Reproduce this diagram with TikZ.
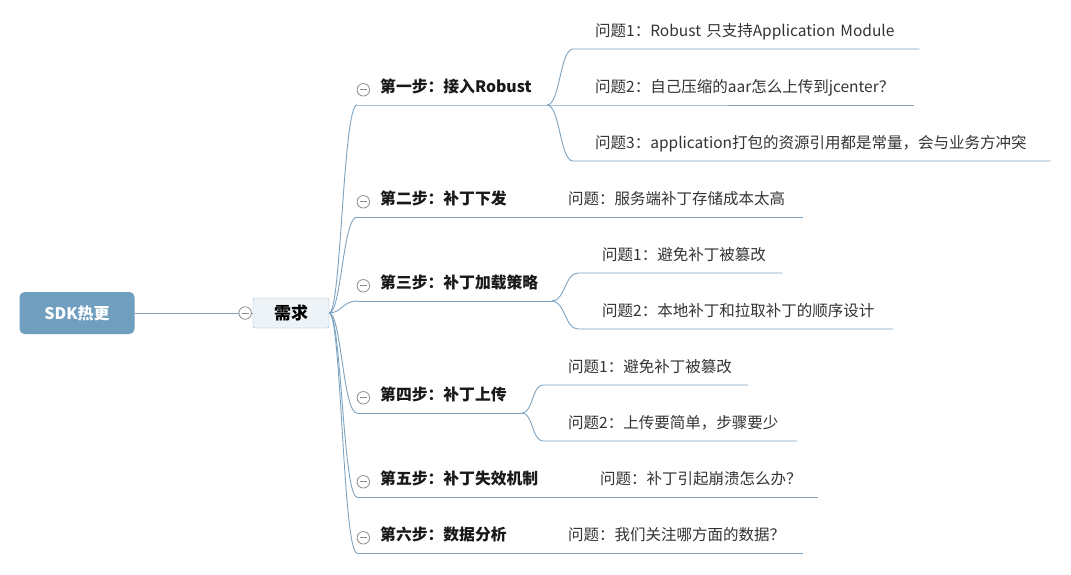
\documentclass[tikz,border=0pt]{standalone}
\usepackage{fontspec}
\newfontfamily\cjk{Noto Sans CJK SC}
\usetikzlibrary{positioning}
\definecolor{linkblue}{RGB}{125,163,192}
\definecolor{rootblue}{RGB}{111,158,191}
\definecolor{reqfill}{RGB}{238,243,248}
\definecolor{reqline}{RGB}{150,178,203}

\begin{document}
\begin{tikzpicture}[x=1pt,y=-1pt,
  link/.style={draw=linkblue,line width=0.9pt},
  root/.style={fill=rootblue,rounded corners=5pt,minimum width=115pt,minimum height=42pt,text=white,font=\cjk\bfseries\fontsize{16}{19}\selectfont},
  need/.style={draw=reqline,fill=reqfill,rounded corners=2pt,minimum width=76pt,minimum height=30pt,font=\cjk\bfseries\fontsize{17}{20}\selectfont},
  stepnode/.style={anchor=south west,inner xsep=0pt,inner ysep=9.5pt,text height=12pt,text depth=3pt,text=black!90,font=\cjk\bfseries\fontsize{15.8}{18}\selectfont},
  leaf/.style={anchor=south west,inner xsep=0pt,inner ysep=9.5pt,text height=12pt,text depth=3pt,align=left,text=black!80,font=\cjk\fontsize{15.5}{18}\selectfont},
  fold/.style={circle,draw=black!45,fill=white,line width=0.8pt,minimum size=12.5pt,inner sep=0pt,
    path picture={\draw[black!45,line width=0.8pt] ([xshift=-3.5pt]path picture bounding box.center)--([xshift=3.5pt]path picture bounding box.center);}}
]
\fill[white] (0,0) rectangle (1071,574);
\useasboundingbox (0,0) rectangle (1071,574);

% centre
\node[root] (sdk) at (77,313) {SDK热更};
\node[need] (req) at (291,313) {需求};

% steps
\node[stepnode] (s1) at (380,105) {第一步：接入Robust};
\node[stepnode] (s2) at (380,217) {第二步：补丁下发};
\node[stepnode] (s3) at (380,301) {第三步：补丁加载策略};
\node[stepnode] (s4) at (380,413) {第四步：补丁上传};
\node[stepnode] (s5) at (380,497) {第五步：补丁失效机制};
\node[stepnode] (s6) at (380,553) {第六步：数据分析};

% questions
\node[leaf,text width=324pt] (q11) at (595,49) {问题1：Robust 只支持Application Module};
\node[leaf,text width=319pt] (q12) at (595,105) {问题2：自己压缩的aar怎么上传到jcenter？};
\node[leaf,text width=455pt] (q13) at (595,161) {问题3：application打包的资源引用都是常量，会与业务方冲突};
\node[leaf,text width=235pt] (q2) at (568,217) {问题：服务端补丁存储成本太高};
\node[leaf,text width=180pt] (q31) at (602,273) {问题1：避免补丁被篡改};
\node[leaf,text width=291pt] (q32) at (602,329) {问题2：本地补丁和拉取补丁的顺序设计};
\node[leaf,text width=180pt] (q41) at (568,385) {问题1：避免补丁被篡改};
\node[leaf,text width=229pt] (q42) at (568,441) {问题2：上传要简单，步骤要少};
\node[leaf,text width=218pt] (q5) at (600,497) {问题：补丁引起崩溃怎么办？};
\node[leaf,text width=235pt] (q6) at (568,553) {问题：我们关注哪方面的数据？};

\coordinate (b1) at (547,105);
\coordinate (b3) at (552,301);
\coordinate (b4) at (522,413);

% links
\draw[link] (sdk.east) -- (req.west);
\foreach \s in {s1,s2,s3,s4,s5,s6}
  \draw[link] (req.east) .. controls +(12,0) and +(-14,0) .. ([xshift=-23pt]\s.south west);

\draw[link] ([xshift=-23pt]s1.south west) -- (b1) -- (q12.south east);
\draw[link] (b1) .. controls +(13,0) and +(-13,0) .. ([xshift=-22pt]q11.south west) -- (q11.south east);
\draw[link] (b1) .. controls +(13,0) and +(-13,0) .. ([xshift=-22pt]q13.south west) -- (q13.south east);
\draw[link] ([xshift=-23pt]s2.south west) -- (q2.south east);
\draw[link] ([xshift=-23pt]s3.south west) -- (b3);
\draw[link] (b3) .. controls +(13,0) and +(-13,0) .. ([xshift=-24pt]q31.south west) -- (q31.south east);
\draw[link] (b3) .. controls +(13,0) and +(-13,0) .. ([xshift=-24pt]q32.south west) -- (q32.south east);
\draw[link] ([xshift=-23pt]s4.south west) -- (b4);
\draw[link] (b4) .. controls +(11,0) and +(-11,0) .. ([xshift=-25pt]q41.south west) -- (q41.south east);
\draw[link] (b4) .. controls +(11,0) and +(-11,0) .. ([xshift=-25pt]q42.south west) -- (q42.south east);
\draw[link] ([xshift=-23pt]s5.south west) -- (q5.south east);
\draw[link] ([xshift=-23pt]s6.south west) -- (q6.south east);

% collapse marks
\node[fold,left=1pt of req] (f0) {};
\foreach \s in {s1,s2,s3,s4,s5,s6}
  \node[fold,left=10pt of \s,yshift=-2pt] (f\s) {};
\end{tikzpicture}
\end{document}
